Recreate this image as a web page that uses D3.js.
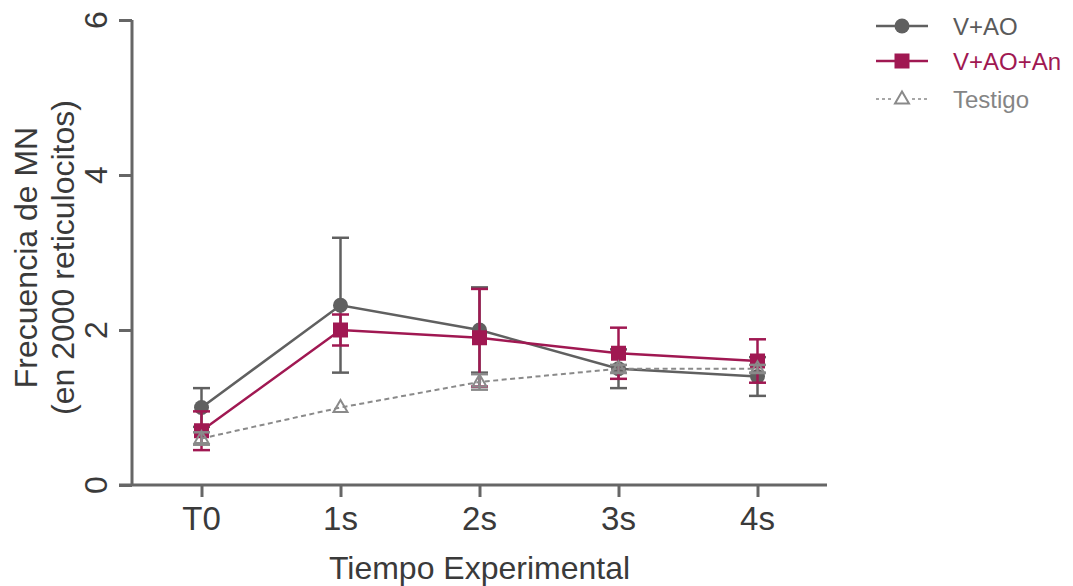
<!DOCTYPE html>
<html>
<head>
<meta charset="utf-8">
<script src="https://cdn.jsdelivr.net/npm/d3@7"></script>
<style>
  html, body { margin: 0; padding: 0; background: #fff; }
  svg { display: block; font-family: "Liberation Sans", Arial, sans-serif; }
</style>
</head>
<body>
<svg id="chart" width="1073" height="586"></svg>
<script>
// Time points (x categories) and y ticks
const timePoints = ["T0", "1s", "2s", "3s", "4s"];
const yTicks = [0, 2, 4, 6];

// Mean MN frequency per 2000 reticulocytes and error (+/-) for each group
const vaoMean = [1.0, 2.32, 2.0, 1.5, 1.4];
const vaoErr  = [0.25, 0.87, 0.55, 0.25, 0.25];

const vaoAnMean = [0.7, 2.0, 1.9, 1.7, 1.6];
const vaoAnErr  = [0.25, 0.2, 0.63, 0.33, 0.28];

const testigoMean = [0.6, 1.0, 1.33, 1.5, 1.5];
const testigoErr  = [0.08, 0, 0.1, 0.05, 0.05];

const seriesNames = ["V+AO", "V+AO+An", "Testigo"];

const GRAY = "#606060";
const MAGENTA = "#a01852";
const LIGHT = "#8a8a8a";

const series = [
  { name: seriesNames[0], mean: vaoMean, err: vaoErr, color: GRAY, marker: "circle", dash: null, textColor: "#5a5a5a" },
  { name: seriesNames[1], mean: vaoAnMean, err: vaoAnErr, color: MAGENTA, marker: "square", dash: null, textColor: MAGENTA },
  { name: seriesNames[2], mean: testigoMean, err: testigoErr, color: LIGHT, marker: "triangle", dash: "5,3.5", textColor: "#858585" }
];

const svg = d3.select("#chart");

const x = d3.scaleLinear().domain([-0.5, timePoints.length - 0.5]).range([132, 827]);
const y = d3.scaleLinear().domain([0, 6]).range([485, 20]);

const AXIS = "#666666";
const TEXT = "#3a3a3a";

// Y axis
const yAxis = svg.append("g").attr("transform", `translate(${x(-0.5)},0)`)
  .call(d3.axisLeft(y).tickValues(yTicks).tickSize(13).tickFormat(""));
yAxis.select(".domain").attr("stroke", AXIS).attr("stroke-width", 3).attr("d", `M0,${y(6)}V${y(0)}`);
yAxis.selectAll(".tick line").attr("stroke", AXIS).attr("stroke-width", 3);

// Rotated y tick labels
svg.append("g").selectAll("text").data(yTicks).join("text")
  .attr("transform", d => `translate(107,${y(d)}) rotate(-90)`)
  .attr("text-anchor", "middle")
  .attr("font-size", 32)
  .attr("fill", TEXT)
  .text(d => d);

// X axis
const xAxis = svg.append("g").attr("transform", `translate(0,${y(0)})`)
  .call(d3.axisBottom(x).tickValues(d3.range(timePoints.length)).tickSize(12).tickFormat(""));
xAxis.select(".domain").attr("stroke", AXIS).attr("stroke-width", 3).attr("d", `M${x(-0.5) - 13},0H${x(timePoints.length - 0.5)}`);
xAxis.selectAll(".tick line").attr("stroke", AXIS).attr("stroke-width", 3);

svg.append("g").selectAll("text").data(timePoints).join("text")
  .attr("x", (d, i) => x(i))
  .attr("y", 530)
  .attr("text-anchor", "middle")
  .attr("font-size", 33)
  .attr("fill", TEXT)
  .text(d => d);

// Axis titles
svg.append("text")
  .attr("x", x(2)).attr("y", 579)
  .attr("text-anchor", "middle")
  .attr("font-size", 32)
  .attr("fill", TEXT)
  .text("Tiempo Experimental");

const yTitle = svg.append("g").attr("transform", `translate(0,${(y(0) + y(6)) / 2 + 5}) rotate(-90)`);
yTitle.append("text").attr("x", 0).attr("y", 37).attr("text-anchor", "middle")
  .attr("font-size", 32).attr("fill", TEXT).text("Frecuencia de MN");
yTitle.append("text").attr("x", 0).attr("y", 74).attr("text-anchor", "middle")
  .attr("font-size", 32).attr("fill", TEXT).text("(en 2000 reticulocitos)");

// Marker drawing helper
function drawMarker(g, type, color, cx, cy) {
  if (type === "circle") {
    g.append("circle").attr("cx", cx).attr("cy", cy).attr("r", 7.5).attr("fill", color);
  } else if (type === "square") {
    g.append("rect").attr("x", cx - 7.5).attr("y", cy - 7.5).attr("width", 15).attr("height", 15).attr("fill", color);
  } else {
    const s = 14, h = s * Math.sqrt(3) / 2;
    g.append("path")
      .attr("d", `M${cx},${cy - h * 0.62}L${cx + s / 2},${cy + h * 0.38}L${cx - s / 2},${cy + h * 0.38}Z`)
      .attr("fill", "none").attr("stroke", color).attr("stroke-width", 2);
  }
}

const line = d3.line().x((d, i) => x(i)).y(d => y(d));
const CAP = 8.5;

// Series: error bars, connecting line, markers
series.forEach(s => {
  const g = svg.append("g");
  s.mean.forEach((m, i) => {
    if (!s.err[i]) return;
    const lo = y(m - s.err[i]), hi = y(m + s.err[i]);
    g.append("line").attr("x1", x(i)).attr("x2", x(i)).attr("y1", lo).attr("y2", hi)
      .attr("stroke", s.color).attr("stroke-width", 2.5);
    [lo, hi].forEach(yy => g.append("line")
      .attr("x1", x(i) - CAP).attr("x2", x(i) + CAP).attr("y1", yy).attr("y2", yy)
      .attr("stroke", s.color).attr("stroke-width", 2.5));
  });
  g.append("path").datum(s.mean).attr("d", line).attr("fill", "none")
    .attr("stroke", s.color).attr("stroke-width", s.dash ? 2 : 2.5)
    .attr("stroke-dasharray", s.dash);
  s.mean.forEach((m, i) => drawMarker(g, s.marker, s.color, x(i), y(m)));
});

// Legend
const legendRows = [26, 61, 99];
series.forEach((s, k) => {
  const g = svg.append("g");
  const ly = legendRows[k];
  g.append("line").attr("x1", 876).attr("x2", 928).attr("y1", ly).attr("y2", ly)
    .attr("stroke", s.color).attr("stroke-width", s.dash ? 1.6 : 2.5)
    .attr("stroke-dasharray", s.dash ? "3,3" : null);
  if (s.marker === "triangle") {
    g.append("rect").attr("x", 894).attr("y", ly - 8).attr("width", 16).attr("height", 14).attr("fill", "#fff");
  }
  drawMarker(g, s.marker, s.color, 902, ly);
  g.append("text").attr("x", 953).attr("y", ly).attr("dy", "0.36em")
    .attr("font-size", 24).attr("fill", s.textColor).text(s.name);
});
</script>
</body>
</html>
